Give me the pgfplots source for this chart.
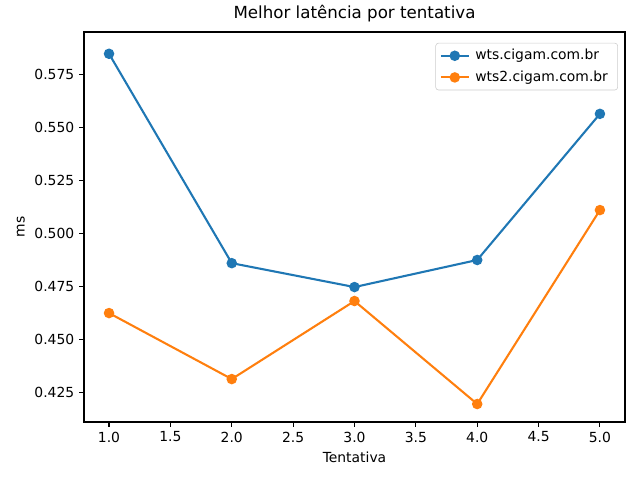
\documentclass[border=0pt]{standalone}
\usepackage{pgfplots}
\pgfplotsset{compat=1.18}
\usepackage{fontspec}
\setmainfont{DejaVu Sans}
\definecolor{mplblue}{HTML}{1F77B4}
\definecolor{mplorange}{HTML}{FF7F0E}
\begin{document}
\begin{tikzpicture}
\useasboundingbox (-60.48pt,-41.76pt) rectangle (400.32pt,303.84pt);
\begin{axis}[
  at={(0,0)}, anchor=south west,
  scale only axis, width=389.5pt, height=280.8pt,
  xmin=0.796, xmax=5.204, ymin=0.4109, ymax=0.5953,
  xtick={1,1.5,...,5}, ytick={0.425,0.45,...,0.576},
  /pgf/number format/assume math mode=true,
  xticklabel style={/pgf/number format/.cd, fixed, fixed zerofill, precision=1},
  yticklabel style={/pgf/number format/.cd, fixed, fixed zerofill, precision=3},
  tick label style={font=\fontsize{10}{12}\selectfont},
  label style={font=\fontsize{10}{12}\selectfont},
  title style={font=\fontsize{12}{14}\selectfont, yshift=-2pt},
  title={Melhor latência por tentativa},
  xlabel={Tentativa}, ylabel={ms},
  tick align=outside, major tick length=3.5pt,
  tick style={black, line width=0.8pt},
  axis line style={line width=0.8pt},
  xtick pos=bottom, ytick pos=left,
  legend style={at={(0.987,0.972)}, anchor=north east, font=\fontsize{10}{12}\selectfont,
    draw=black!20, rounded corners=2pt, inner xsep=3pt, inner ysep=2.5pt, row sep=2.5pt,
    nodes={inner xsep=4pt}},
  legend cell align=left,
  legend image code/.code={
    \draw[#1] (0pt,0pt) -- (20pt,0pt);
    \draw[#1, only marks] plot coordinates {(10pt,0pt)};
  },
]
\addplot[color=mplblue, line width=1.5pt, mark=*, mark size=3pt] coordinates {
(1,0.585) (2,0.486) (3,0.4747) (4,0.4875) (5,0.5566)};
\addlegendentry{wts.cigam.com.br}
\addplot[color=mplorange, line width=1.5pt, mark=*, mark size=3pt] coordinates {
(1,0.4624) (2,0.4312) (3,0.4681) (4,0.4194) (5,0.5111)};
\addlegendentry{wts2.cigam.com.br}
\end{axis}
\end{tikzpicture}
\end{document}
